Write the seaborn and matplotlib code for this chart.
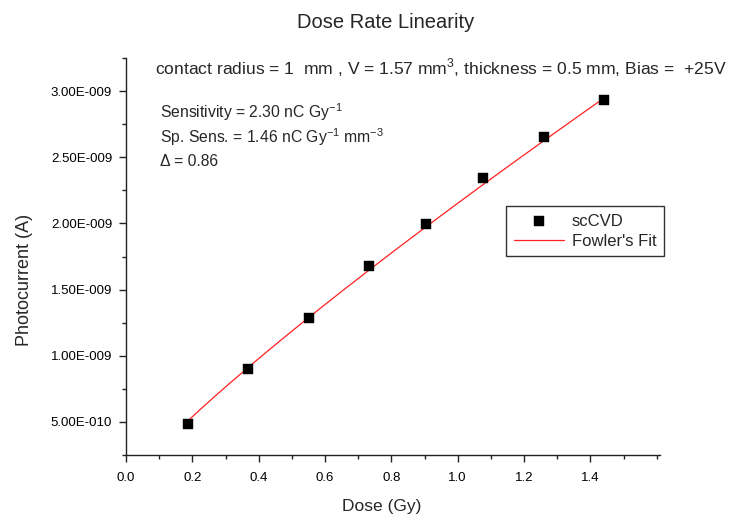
import numpy as np
import pandas as pd
import matplotlib
matplotlib.use("Agg")
import matplotlib.pyplot as plt
from matplotlib.ticker import MultipleLocator, FuncFormatter
import seaborn as sns

# Measured photocurrent vs. dose (scCVD detector)
dose_gy = [0.186, 0.369, 0.551, 0.733, 0.905, 1.076, 1.259, 1.440]
photocurrent_a = [4.88e-10, 8.98e-10, 1.289e-9, 1.677e-9, 1.994e-9, 2.342e-9, 2.650e-9, 2.932e-9]

# Fowler exponent
DELTA = 0.86

sns.set_style("ticks")
plt.rcParams["font.family"] = ["Liberation Sans", "DejaVu Sans"]
plt.rcParams["mathtext.fontset"] = "custom"
plt.rcParams["mathtext.rm"] = "Liberation Sans"

df = pd.DataFrame({"dose": dose_gy, "current": photocurrent_a})

# Fowler fit I = R * D^Delta, prefactor by least squares in log space
x = np.asarray(dose_gy)
y = np.asarray(photocurrent_a)
log_r = np.mean(np.log(y) - DELTA * np.log(x))
fit_x = np.linspace(x.min(), x.max(), 200)
fit_df = pd.DataFrame({"dose": fit_x, "current": np.exp(log_r) * fit_x ** DELTA})

W, H = 756, 520
fig = plt.figure(figsize=(W / 100, H / 100), dpi=100)
ax = fig.add_axes([126 / W, 65 / H, 534 / W, 397 / H])

sns.scatterplot(data=df, x="dose", y="current", ax=ax, marker="s", s=48,
                color="black", edgecolor="black", linewidth=0.3,
                label="scCVD", zorder=3)
sns.lineplot(data=fit_df, x="dose", y="current", ax=ax, color="#ff2020",
             linewidth=0.9, label="Fowler's Fit", zorder=2)

ax.set_xlim(0, 1.61)
ax.set_ylim(2.5e-10, 3.25e-9)
ax.set_xticks(np.arange(0, 1.41, 0.2))
ax.xaxis.set_minor_locator(MultipleLocator(0.1))
ax.xaxis.set_major_formatter(FuncFormatter(lambda v, p: f"{v:.1f}"))


def sci_fmt(v, pos):
    if v <= 0:
        return ""
    exp = int(np.floor(np.log10(v) + 1e-9))
    mant = v / 10 ** exp
    sign = "-" if exp < 0 else "+"
    return f"{mant:.2f}E{sign}{abs(exp):03d}"


ax.set_yticks(np.arange(5e-10, 3.01e-9, 5e-10))
ax.yaxis.set_minor_locator(MultipleLocator(2.5e-10))
ax.yaxis.set_major_formatter(FuncFormatter(sci_fmt))

for s in ("top", "right"):
    ax.spines[s].set_visible(False)
for s in ("left", "bottom"):
    ax.spines[s].set_linewidth(1.0)
    ax.spines[s].set_color("#222222")

ax.tick_params(axis="both", which="major", direction="out", length=5, width=1,
               labelsize=9.5, colors="#222222", labelcolor="black")
ax.tick_params(axis="both", which="minor", direction="out", length=3, width=1,
               colors="#222222")
ax.tick_params(axis="y", pad=5)
ax.tick_params(axis="x", pad=7)

ax.set_xlabel("Dose (Gy)", fontsize=12.5)
ax.xaxis.set_label_coords((382 - 126) / 534, -(499 - 455) / 397)
ax.set_ylabel("Photocurrent (A)", fontsize=13)
ax.yaxis.set_label_coords(-(126 - 33) / 534, (455 - 280) / 397)

fig.text(386 / W, 1 - 22 / H, "Dose Rate Linearity", ha="center", va="center",
         fontsize=14.5)

fig.text(155 / W, 1 - 68 / H,
         "contact radius = 1  mm , V = 1.57 mm$^3$, thickness = 0.5 mm, Bias =  +25V",
         fontsize=12.6, va="center", ha="left")

notes = [
    (160, 112, "Sensitivity = 2.30 nC Gy$^{-1}$"),
    (160, 137, "Sp. Sens. = 1.46 nC Gy$^{-1}$ mm$^{-3}$"),
    (160, 161, "Δ = 0.86"),
]
for px, py, t in notes:
    fig.text(px / W, 1 - py / H, t, fontsize=11.3, va="center", ha="left")

h, l = ax.get_legend_handles_labels()
leg = ax.legend(h, l, loc="upper left",
                bbox_to_anchor=((506 - 126) / 534, (455 - 206) / 397),
                frameon=True, fancybox=False, shadow=False, fontsize=12,
                handlelength=3.0, handletextpad=0.5, borderpad=0.45,
                labelspacing=0.3, borderaxespad=0)
leg.get_frame().set_edgecolor("black")
leg.get_frame().set_linewidth(1.0)

fig.savefig("out.png", dpi=100)
